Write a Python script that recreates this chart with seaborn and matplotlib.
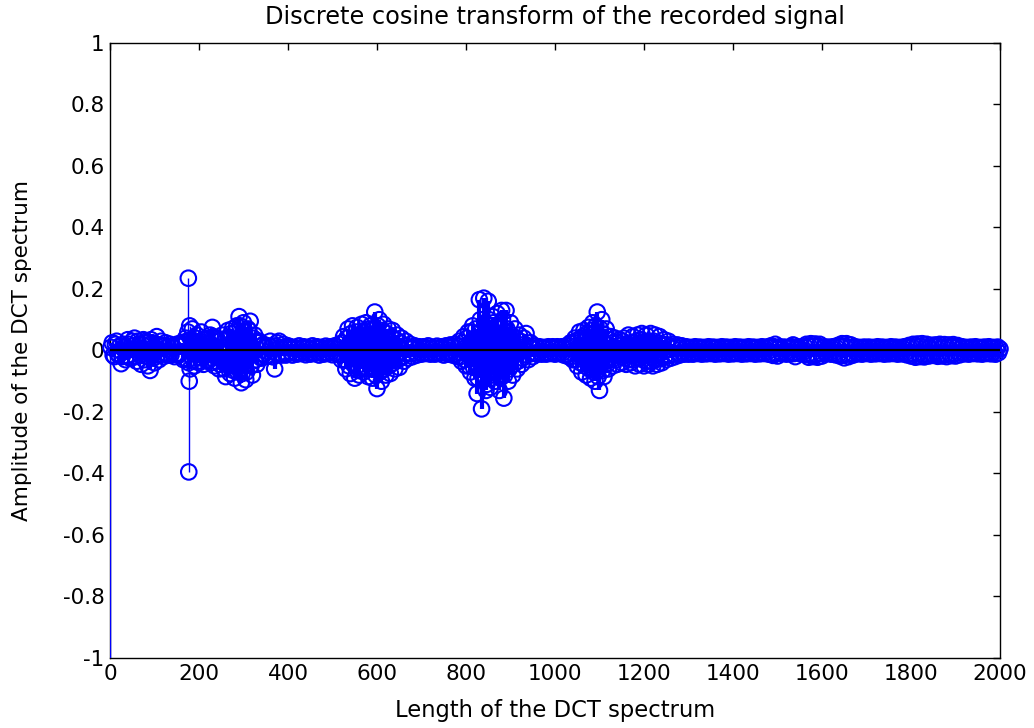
import numpy as np
import pandas as pd
import matplotlib
matplotlib.use("Agg")
import matplotlib.pyplot as plt
import seaborn as sns

# ---- data ----
first_index = [1]
first_value = [-1.6]   # clipped at the bottom of the axes

# coefficients at n = 5, 10, ..., 2000
step_values = [
    0.025, -0.02, 0.03, -0.015, -0.043, 0.02, -0.03, 0.035, -0.025, 0.03, 0.04, -0.035, 0.02, -0.045, 0.035, 0.03, -0.05, -0.065, 0.025, -0.04,
    0.045, -0.03, 0.03, -0.02, 0.025, -0.015, 0.02, 0.015, -0.02, 0.02, -0.015, 0.025, -0.03, 0.04, 0.06, -0.06, 0.07, -0.05, 0.05, -0.04,
    0.06, -0.045, 0.04, -0.035, 0.05, 0.075, -0.05, 0.04, -0.06, 0.035, -0.04, -0.085, 0.065, -0.075, 0.07, -0.09, 0.08, 0.11, -0.105, 0.09,
    -0.095, 0.07, 0.095, -0.08, 0.05, -0.045, 0.03, -0.025, 0.02, -0.02, 0.015, 0.03, -0.02, -0.06, 0.025, 0.03, -0.015, 0.02, -0.015, 0.015,
    0.012, -0.015, 0.01, -0.012, 0.015, -0.01, 0.012, -0.014, 0.01, -0.012, 0.015, -0.01, 0.012, -0.015, 0.01, -0.012, 0.014, -0.01, 0.012, -0.014,
    0.015, -0.012, 0.02, -0.03, 0.045, -0.06, 0.07, -0.075, 0.08, -0.09, 0.075, -0.08, 0.085, -0.07, 0.09, -0.085, 0.08, -0.09, 0.125, -0.124,
    0.1, -0.1, 0.085, -0.08, 0.07, -0.075, 0.065, -0.06, 0.05, -0.055, 0.04, -0.035, 0.03, -0.025, 0.02, -0.02, 0.015, -0.015, 0.012, -0.012,
    0.012, -0.01, 0.015, -0.012, 0.01, -0.012, 0.014, -0.01, 0.012, -0.015, 0.015, -0.012, 0.018, -0.015, 0.02, -0.02, 0.03, -0.035, 0.045, -0.05,
    0.06, -0.07, 0.08, -0.09, -0.14, 0.165, -0.19, 0.17, -0.13, 0.16, -0.12, 0.11, -0.1, 0.12, -0.13, 0.13, -0.155, 0.13, -0.1, 0.09,
    -0.08, 0.07, -0.06, 0.05, -0.045, 0.04, 0.055, -0.03, 0.025, -0.02, 0.015, -0.012, 0.012, -0.012, 0.01, -0.012, 0.012, -0.01, 0.012, -0.012,
    0.012, -0.01, 0.012, -0.015, 0.015, -0.02, 0.025, -0.03, 0.04, -0.05, 0.06, -0.07, 0.065, -0.08, 0.075, -0.09, 0.09, -0.1, 0.125, -0.13,
    0.1, -0.085, 0.07, -0.06, 0.045, -0.05, 0.04, -0.045, 0.035, -0.04, 0.04, -0.045, 0.05, -0.04, 0.045, -0.05, 0.05, -0.045, 0.055, -0.05,
    0.05, -0.045, 0.055, -0.05, 0.05, -0.045, 0.045, -0.04, 0.035, -0.03, 0.03, -0.025, 0.02, -0.02, 0.018, -0.015, 0.015, -0.012, 0.012, -0.012,
    0.01, -0.012, 0.012, -0.01, 0.011, -0.012, 0.01, -0.011, 0.012, -0.01, 0.011, -0.012, 0.01, -0.011, 0.012, -0.01, 0.011, -0.012, 0.01, -0.011,
    0.012, -0.01, 0.011, -0.012, 0.01, -0.011, 0.012, -0.01, 0.011, -0.012, 0.01, -0.011, 0.012, -0.01, 0.011, -0.012, 0.015, -0.016, 0.02, -0.018,
    0.012, -0.01, 0.011, -0.012, 0.01, -0.011, 0.018, -0.02, 0.012, -0.01, 0.011, -0.012, 0.02, -0.022, 0.022, -0.02, 0.021, -0.022, 0.02, -0.018,
    0.012, -0.01, 0.011, -0.012, 0.012, -0.014, 0.016, -0.018, 0.022, -0.024, 0.022, -0.02, 0.018, -0.015, 0.012, -0.011, 0.01, -0.012, 0.011, -0.01,
    0.011, -0.012, 0.01, -0.011, 0.012, -0.01, 0.011, -0.012, 0.01, -0.011, 0.012, -0.01, 0.011, -0.012, 0.01, -0.011, 0.012, -0.014, 0.016, -0.018,
    0.02, -0.022, 0.021, -0.02, 0.022, -0.021, 0.02, -0.018, 0.017, -0.016, 0.018, -0.019, 0.02, -0.018, 0.019, -0.02, 0.018, -0.017, 0.019, -0.018,
    0.016, -0.014, 0.012, -0.011, 0.01, -0.012, 0.011, -0.01, 0.012, -0.011, 0.01, -0.012, 0.011, -0.01, 0.012, -0.011, 0.01, -0.012, 0.011, 0.005,
]
step_index = list(range(5, 2001, 5))

# coefficients at n = 2, 7, 12, ..., 1997 (the quieter in-between values)
mid_values = [
    0.01, -0.015, 0.02, -0.01, 0.015, -0.02, 0.012, -0.018, 0.02, -0.025, 0.015, -0.02, 0.03, -0.015, 0.02, -0.03, 0.025, -0.02, 0.035, -0.025,
    0.02, -0.015, 0.018, -0.012, 0.015, -0.01, 0.012, -0.015, 0.01, -0.012, 0.015, -0.01, 0.02, -0.025, 0.03, -0.04, 0.035, -0.03, 0.04, -0.035,
    0.03, -0.025, 0.035, -0.03, 0.025, -0.04, 0.045, -0.035, 0.03, -0.045, 0.05, -0.06, 0.04, -0.05, 0.055, -0.065, 0.06, -0.07, 0.08, -0.075,
    0.06, -0.07, 0.065, -0.05, 0.04, -0.03, 0.025, -0.02, 0.015, -0.012, 0.01, -0.015, 0.012, -0.02, 0.015, -0.012, 0.01, -0.012, 0.01, -0.008,
    0.008, -0.006, 0.007, -0.008, 0.006, -0.007, 0.008, -0.006, 0.007, -0.008, 0.006, -0.007, 0.008, -0.006, 0.007, -0.008, 0.006, -0.007, 0.008, -0.006,
    0.007, -0.008, 0.01, -0.015, 0.025, -0.03, 0.04, -0.05, 0.055, -0.045, 0.06, -0.065, 0.05, -0.06, 0.065, -0.055, 0.07, -0.06, 0.07, -0.08,
    0.08, -0.07, 0.065, -0.06, 0.055, -0.05, 0.045, -0.04, 0.035, -0.03, 0.025, -0.02, 0.015, -0.012, 0.01, -0.01, 0.008, -0.008, 0.007, -0.006,
    0.007, -0.006, 0.008, -0.007, 0.006, -0.008, 0.007, -0.006, 0.008, -0.007, 0.006, -0.008, 0.01, -0.008, 0.012, -0.01, 0.015, -0.02, 0.025, -0.03,
    0.04, -0.05, 0.06, -0.055, 0.07, -0.09, 0.1, -0.08, 0.09, -0.11, 0.1, -0.08, 0.09, -0.07, 0.08, -0.09, 0.1, -0.08, 0.07, -0.06,
    0.05, -0.045, 0.04, -0.035, 0.03, -0.025, 0.02, -0.015, 0.012, -0.01, 0.008, -0.008, 0.007, -0.006, 0.008, -0.007, 0.006, -0.008, 0.007, -0.006,
    0.007, -0.008, 0.006, -0.008, 0.01, -0.012, 0.015, -0.02, 0.025, -0.03, 0.035, -0.04, 0.045, -0.05, 0.055, -0.06, 0.065, -0.07, 0.08, -0.085,
    0.07, -0.065, 0.05, -0.045, 0.035, -0.03, 0.025, -0.03, 0.025, -0.02, 0.03, -0.025, 0.02, -0.03, 0.025, -0.03, 0.03, -0.025, 0.035, -0.03,
    0.03, -0.035, 0.03, -0.035, 0.03, -0.03, 0.025, -0.025, 0.02, -0.02, 0.018, -0.015, 0.012, -0.012, 0.01, -0.01, 0.008, -0.008, 0.007, -0.007,
    0.006, -0.007, 0.005, -0.006, 0.007, -0.005, 0.006, -0.007, 0.005, -0.006, 0.007, -0.005, 0.006, -0.007, 0.005, -0.006, 0.007, -0.005, 0.006, -0.007,
    0.005, -0.006, 0.007, -0.005, 0.006, -0.007, 0.005, -0.006, 0.007, -0.005, 0.006, -0.007, 0.005, -0.006, 0.007, -0.005, 0.01, -0.012, 0.012, -0.01,
    0.006, -0.007, 0.005, -0.006, 0.007, -0.005, 0.012, -0.01, 0.006, -0.007, 0.005, -0.006, 0.012, -0.014, 0.013, -0.012, 0.014, -0.013, 0.012, -0.01,
    0.007, -0.005, 0.006, -0.007, 0.008, -0.009, 0.01, -0.012, 0.014, -0.015, 0.014, -0.012, 0.01, -0.009, 0.007, -0.006, 0.005, -0.007, 0.006, -0.005,
    0.006, -0.007, 0.005, -0.006, 0.007, -0.005, 0.006, -0.007, 0.005, -0.006, 0.007, -0.005, 0.006, -0.007, 0.005, -0.006, 0.007, -0.008, 0.01, -0.011,
    0.012, -0.013, 0.012, -0.011, 0.013, -0.012, 0.011, -0.012, 0.01, -0.011, 0.012, -0.01, 0.013, -0.012, 0.011, -0.012, 0.01, -0.011, 0.012, -0.01,
    0.009, -0.008, 0.007, -0.006, 0.007, -0.005, 0.006, -0.007, 0.005, -0.006, 0.007, -0.005, 0.006, -0.007, 0.005, -0.006, 0.007, -0.005, 0.006, -0.007,
]
mid_index = list(range(2, 2001, 5))

spike_index = [176, 177, 178, 179]
spike_value = [0.235, -0.395, -0.10, 0.08]

x_ticks = [0, 200, 400, 600, 800, 1000, 1200, 1400, 1600, 1800, 2000]
y_ticks = [-1, -0.8, -0.6, -0.4, -0.2, 0, 0.2, 0.4, 0.6, 0.8, 1]

title = "Discrete cosine transform of the recorded signal"
xlabel = "Length of the DCT spectrum"
ylabel = "Amplitude of the DCT spectrum"

# ---- build tables ----
dense = pd.DataFrame({
    "n": step_index + mid_index,
    "amp": step_values + mid_values,
}).sort_values("n").reset_index(drop=True)
single = pd.DataFrame({
    "n": first_index + spike_index,
    "amp": first_value + spike_value,
})
df = pd.concat([single, dense]).sort_values("n").reset_index(drop=True)

sns.set_style("white")
plt.rcParams["font.family"] = ["DejaVu Sans"]
plt.rcParams["axes.unicode_minus"] = False
plt.rcParams["text.color"] = "black"
plt.rcParams["axes.labelcolor"] = "black"
plt.rcParams["xtick.color"] = "black"
plt.rcParams["ytick.color"] = "black"

fig = plt.figure(figsize=(10.34, 7.28), dpi=100)
ax = fig.add_axes([0.1064, 0.0962, 0.8607, 0.8448])

# stems
ax.vlines(dense["n"], 0, dense["amp"], colors="blue", linewidth=3.0, zorder=2.6)
ax.vlines(single["n"], 0, single["amp"], colors="blue", linewidth=1.0, zorder=2.6)
# markers (first coefficient is off-axes)
visible = df[df["amp"] > -1]
sns.scatterplot(data=visible, x="n", y="amp", ax=ax, marker="o", s=125,
                facecolor="none", edgecolor="blue", linewidth=1.5, zorder=3,
                legend=False)
for coll in ax.collections[2:]:
    coll.set_clip_on(False)
# baseline
ax.axhline(0, xmin=0, xmax=1, color="black", linewidth=1.6, zorder=4)

ax.set_xlim(0, 2000)
ax.set_ylim(-1, 1)
ax.set_xticks(x_ticks)
ax.set_yticks(y_ticks)
ax.set_xticklabels([f"{v:g}" for v in x_ticks])
ax.set_yticklabels([f"{v:g}" for v in y_ticks])
ax.tick_params(direction="in", length=5, width=1, top=True, right=True,
               labelsize=15.5, color="black", labelcolor="black", pad=4)
for s in ax.spines.values():
    s.set_visible(True)
    s.set_color("black")
    s.set_linewidth(1.0)

ax.set_title(title, fontsize=17.3, pad=14, color="black")
ax.set_xlabel(xlabel, fontsize=16.3, labelpad=11, color="black")
ax.set_ylabel(ylabel, fontsize=15.5, labelpad=22, color="black")

fig.savefig("out.png", dpi=100, facecolor="white")
